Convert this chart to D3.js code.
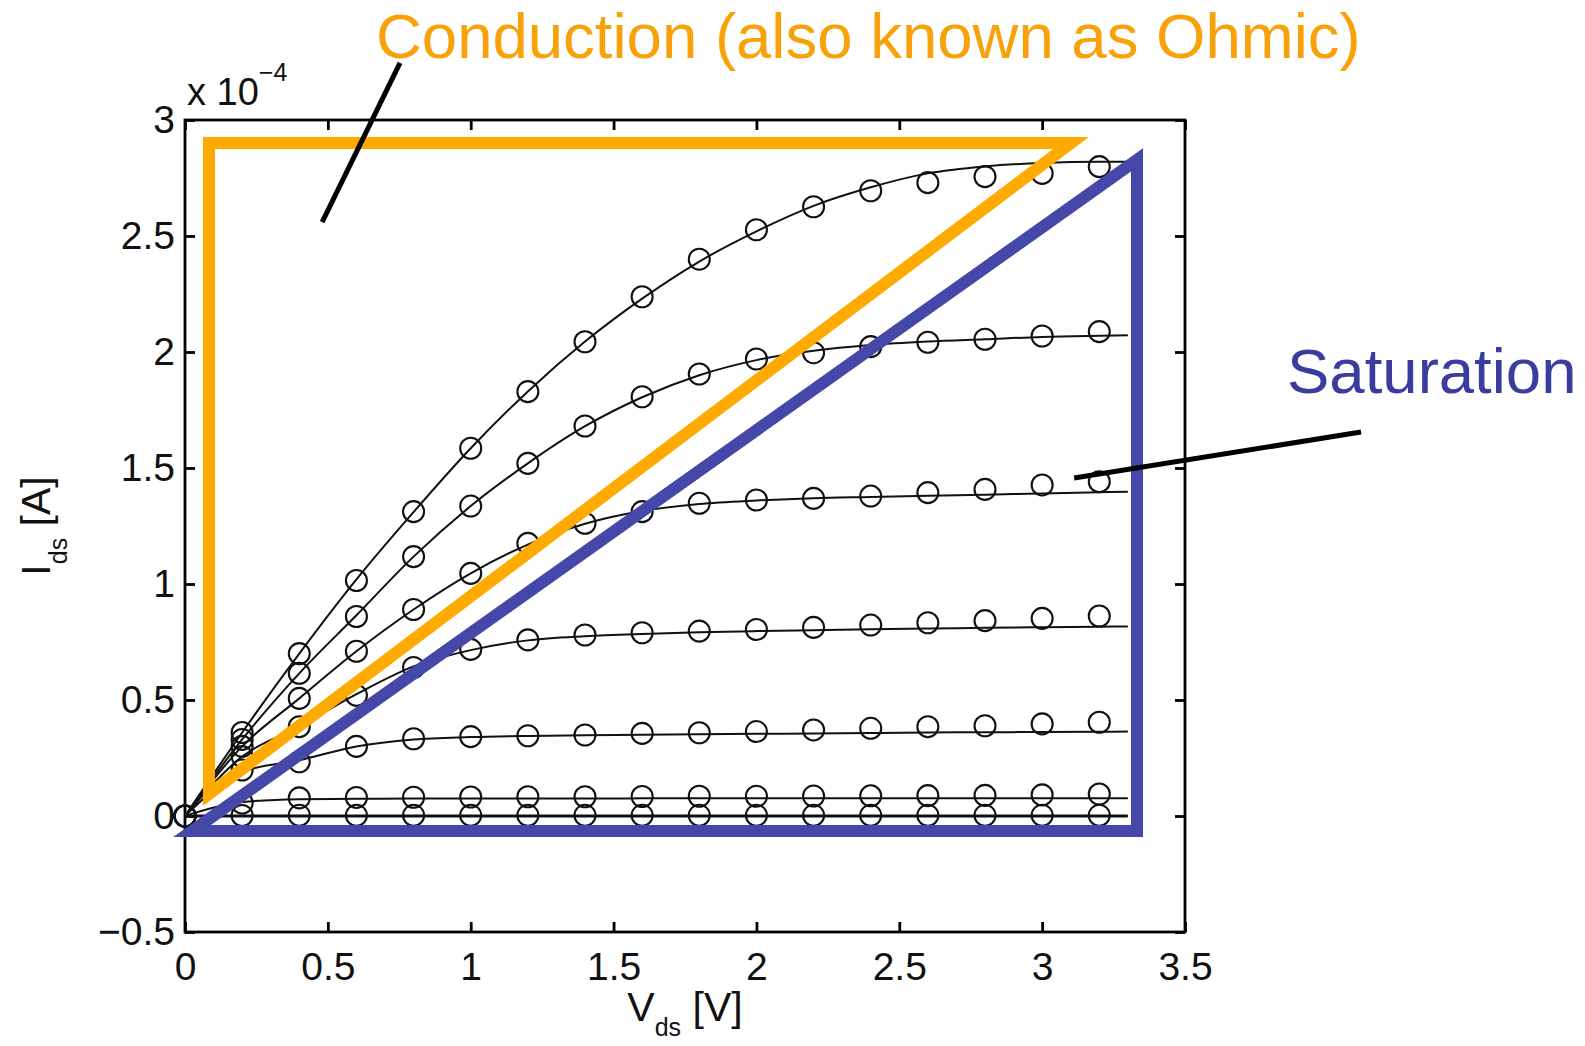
<!DOCTYPE html>
<html><head><meta charset="utf-8">
<script src="https://cdn.jsdelivr.net/npm/d3@7"></script>
<style>
body{margin:0;background:#fff}
svg{display:block}
text{font-family:"Liberation Sans", Arial, Helvetica, sans-serif}
</style>
</head><body>
<svg id="chart" width="1585" height="1046"></svg>
<script>
// ---- data (Ids in units of 1e-4 A) ----
const vds = [0,0.2,0.4,0.6,0.8,1.0,1.2,1.4,1.6,1.8,2.0,2.2,2.4,2.6,2.8,3.0,3.2];
const vdsFit = [0,0.2,0.4,0.6,0.8,1.0,1.2,1.4,1.6,1.8,2.0,2.2,2.4,2.6,2.8,3.0,3.2,3.3];

const meas1 = [0,0.36,0.70,1.015,1.312,1.585,1.829,2.044,2.238,2.40,2.527,2.626,2.695,2.730,2.756,2.770,2.799];
const meas2 = [0,0.33,0.615,0.86,1.118,1.336,1.520,1.681,1.807,1.905,1.970,1.997,2.023,2.042,2.055,2.069,2.088];
const meas3 = [0,0.30,0.507,0.71,0.89,1.046,1.175,1.262,1.312,1.348,1.362,1.369,1.379,1.394,1.408,1.427,1.441];
const meas4 = [0,0.256,0.385,0.52,0.640,0.718,0.759,0.780,0.790,0.797,0.804,0.813,0.823,0.833,0.842,0.852,0.862];
const meas5 = [0,0.198,0.234,0.30,0.333,0.342,0.346,0.349,0.356,0.359,0.364,0.371,0.378,0.385,0.389,0.397,0.404];
const meas6 = [0,0.056,0.078,0.080,0.081,0.082,0.083,0.083,0.084,0.085,0.085,0.086,0.087,0.088,0.089,0.091,0.095];
const meas7 = [0,0.002,0.003,0.003,0.003,0.003,0.003,0.003,0.003,0.003,0.003,0.003,0.003,0.003,0.003,0.003,0.003];

const fit1 = [0,0.36,0.70,1.02,1.31,1.585,1.83,2.045,2.23,2.39,2.52,2.63,2.71,2.77,2.80,2.815,2.82,2.82];
const fit2 = [0,0.33,0.615,0.865,1.118,1.336,1.52,1.68,1.805,1.90,1.965,2.005,2.03,2.045,2.055,2.065,2.07,2.072];
const fit3 = [0,0.30,0.507,0.71,0.89,1.046,1.17,1.26,1.315,1.345,1.36,1.37,1.375,1.38,1.385,1.39,1.395,1.398];
const fit4 = [0,0.256,0.385,0.525,0.645,0.715,0.757,0.775,0.785,0.792,0.797,0.801,0.805,0.808,0.811,0.814,0.816,0.817];
const fit5 = [0,0.19,0.24,0.30,0.33,0.34,0.345,0.348,0.35,0.352,0.354,0.356,0.358,0.36,0.361,0.362,0.363,0.364];
const fit6 = [0,0.06,0.072,0.074,0.075,0.075,0.075,0.075,0.076,0.076,0.076,0.076,0.076,0.076,0.076,0.076,0.076,0.076];
const fit7 = [0,0,0,0,0,0,0,0,0,0,0,0,0,0,0,0,0,0];

const measured = [meas1,meas2,meas3,meas4,meas5,meas6,meas7];
const fits = [fit1,fit2,fit3,fit4,fit5,fit6,fit7];

const xTicks = [0,0.5,1,1.5,2,2.5,3,3.5];
const xTickLabels = ["0","0.5","1","1.5","2","2.5","3","3.5"];
const yTicks = [-0.5,0,0.5,1,1.5,2,2.5,3];
const yTickLabels = ["\u22120.5","0","0.5","1","1.5","2","2.5","3"];

// annotation shapes in data coordinates
const ohmicRegion = [[0.084,2.901],[3.101,2.901],[0.084,0.095]];
const saturationRegion = [[0.0245,-0.065],[3.332,-0.065],[3.332,2.828]];
const ohmicPointer = [[0.7525,3.246],[0.48,2.56]];
const satPointer = [[3.112,1.457],[4.116,1.655]];
const ohmicLabel = "Conduction (also known as Ohmic)";
const satLabel = "Saturation";

// ---- drawing ----
const svg = d3.select("#chart");
const x = d3.scaleLinear().domain([0,3.5]).range([185,1185]);
const y = d3.scaleLinear().domain([-0.5,3]).range([932,120]);

// axes box
svg.append("rect").attr("x",x(0)).attr("y",y(3)).attr("width",x(3.5)-x(0)).attr("height",y(-0.5)-y(3))
  .attr("fill","none").attr("stroke","#000").attr("stroke-width",2.8);

const fmtX = (d)=> xTickLabels[xTicks.indexOf(d)];
const fmtY = (d)=> yTickLabels[yTicks.indexOf(d)];

const gB = svg.append("g").attr("transform",`translate(0,${y(-0.5)})`)
  .call(d3.axisBottom(x).tickValues(xTicks).tickFormat(fmtX).tickSize(-10).tickSizeOuter(0).tickPadding(20));
const gT = svg.append("g").attr("transform",`translate(0,${y(3)})`)
  .call(d3.axisTop(x).tickValues(xTicks).tickFormat("").tickSize(-10).tickSizeOuter(0));
const gL = svg.append("g").attr("transform",`translate(${x(0)},0)`)
  .call(d3.axisLeft(y).tickValues(yTicks).tickFormat(fmtY).tickSize(-10).tickSizeOuter(0).tickPadding(10));
const gR = svg.append("g").attr("transform",`translate(${x(3.5)},0)`)
  .call(d3.axisRight(y).tickValues(yTicks).tickFormat("").tickSize(-10).tickSizeOuter(0));
[gB,gT,gL,gR].forEach(g=>{
  g.select(".domain").remove();
  g.selectAll(".tick line").attr("stroke","#000").attr("stroke-width",2.8);
  g.selectAll("text").attr("fill","#111").style("font-size","39px").style("font-family",'"Liberation Sans", Arial, sans-serif');
});

// x 10^-4
const mult = svg.append("text").attr("x",187).attr("y",105).attr("fill","#111").style("font-size","38px");
mult.append("tspan").text("x 10");
mult.append("tspan").attr("dy",-24).style("font-size","25px").text("\u22124");

// axis labels
const xl = svg.append("text").attr("x",x(1.75)).attr("y",1021).attr("text-anchor","middle").attr("fill","#111").style("font-size","41px");
xl.append("tspan").text("V");
xl.append("tspan").attr("dy",15).style("font-size","25px").text("ds");
xl.append("tspan").attr("dy",-15).text(" [V]");

const yl = svg.append("text").attr("transform",`translate(50,${y(1.25)}) rotate(-90)`).attr("text-anchor","middle").attr("fill","#111").style("font-size","41px");
yl.append("tspan").text("I");
yl.append("tspan").attr("dy",17).style("font-size","25px").text("ds");
yl.append("tspan").attr("dy",-17).text(" [A]");

// fitted curves
const line = d3.line().x(d=>x(d[0])).y(d=>y(d[1])).curve(d3.curveMonotoneX);
fits.forEach((f,i)=>{
  svg.append("path").datum(vdsFit.map((v,j)=>[v,f[j]]))
    .attr("d",line).attr("fill","none").attr("stroke","#111").attr("stroke-width", i===6?2.8:2);
});
// measured markers
measured.forEach(m=>{
  svg.append("g").selectAll("circle").data(vds.map((v,j)=>[v,m[j]])).join("circle")
    .attr("cx",d=>x(d[0])).attr("cy",d=>y(d[1])).attr("r",10.5)
    .attr("fill","none").attr("stroke","#111").attr("stroke-width",2.1);
});

// region outlines
const poly = d3.line().x(d=>x(d[0])).y(d=>y(d[1]));
svg.append("path").attr("d",poly(ohmicRegion)+"Z").attr("fill","none").attr("stroke","#FFAA00")
  .attr("stroke-width",12).attr("stroke-linejoin","miter").attr("stroke-miterlimit",10);
svg.append("path").attr("d",poly(saturationRegion)+"Z").attr("fill","none").attr("stroke","#4548A8")
  .attr("stroke-width",12).attr("stroke-linejoin","miter").attr("stroke-miterlimit",10);

// pointers
svg.append("path").attr("d",poly(ohmicPointer)).attr("stroke","#000").attr("stroke-width",5);
svg.append("path").attr("d",poly(satPointer)).attr("stroke","#000").attr("stroke-width",5);

// labels
svg.append("text").attr("x",376).attr("y",58).attr("fill","#F9A10A").style("font-size","63.5px").text(ohmicLabel);
svg.append("text").attr("x",1287).attr("y",393).attr("fill","#3A3C9E").style("font-size","63.5px").text(satLabel);
</script>
</body></html>
